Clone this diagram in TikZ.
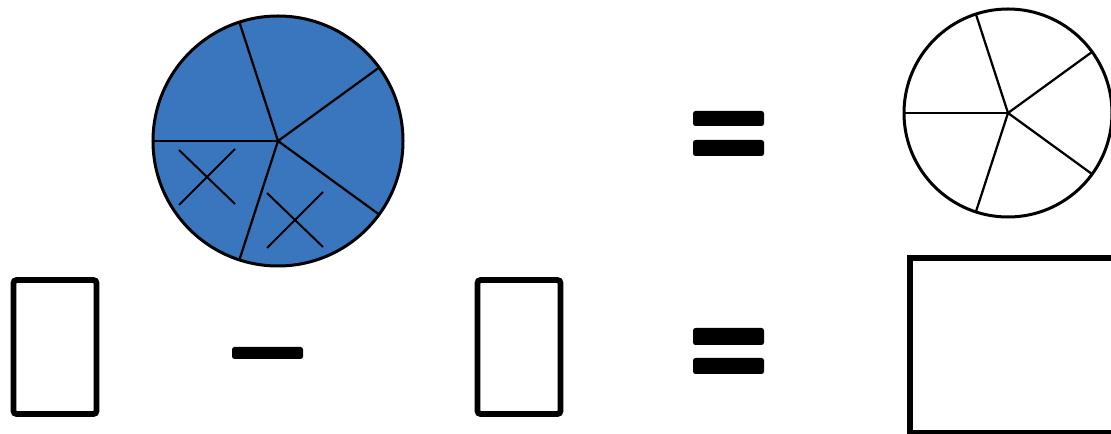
\documentclass[tikz,border=0pt]{standalone}
\usepackage{tikz}
\usetikzlibrary{calc}
\usepackage{xcolor}
\definecolor{pieblue}{RGB}{58, 118, 190}

\begin{document}
\begin{tikzpicture}[
            x=0.2mm, y=-0.2mm,
            pie/.style={circle, draw=black, line width=0.6mm, inner sep=0pt, outer sep=0pt},
            spoke/.style={line width=0.45mm},
            cross/.style={line width=0.4mm},
            bar/.style={fill=black, rounded corners=0.5mm, inner sep=0pt, minimum width=14.2mm},
            answer/.style={draw, line width=1.15mm, rounded corners=0.6mm, minimum width=16.6mm, minimum height=26.8mm, inner sep=0pt}
        ]
            \useasboundingbox (0,0) rectangle (1111,434);
            \clip (0,0) rectangle (1111,434);

            % Circles
            \node[pie, fill=pieblue, minimum size=50mm] (whole) at (278,141) {};
            \node[pie, fill=white, minimum size=41.6mm] (rest) at (1008,113) {};

            \foreach \a in {180,108,36,-36,-108} {
                \draw[spoke] (whole.center) -- (whole.\a);
                \draw[spoke] (rest.center) -- (rest.\a);
            }

            % Crossed-out parts
            \coordinate (xa) at (207,177);
            \coordinate (xb) at (295,220);
            \foreach \c in {xa,xb} {
                \draw[cross] ($(\c)+(-28,-27)$) -- ($(\c)+(28,27)$);
                \draw[cross] ($(\c)+(28,-28)$) -- ($(\c)+(-28,28)$);
            }

            % Signs
            \node[bar, minimum height=3mm] (eqtopA) at (728.5,118.5) {};
            \node[bar, minimum height=3.2mm] (eqtopB) at (728.5,148) {};
            \node[bar, minimum height=3.4mm] (eqbotA) at (728.5,336.5) {};
            \node[bar, minimum height=3.2mm] (eqbotB) at (728.5,366) {};
            \node[bar, minimum height=2.4mm] (minus) at (267.5,353) {};

            % Boxes
            \node[answer] (boxA) at (55,347) {};
            \node[answer] (boxB) at (519,347) {};
            \node[answer, rounded corners=0pt, minimum width=41.2mm, minimum height=35mm] (boxC) at (1013,345.5) {};
        \end{tikzpicture}
\end{document}
